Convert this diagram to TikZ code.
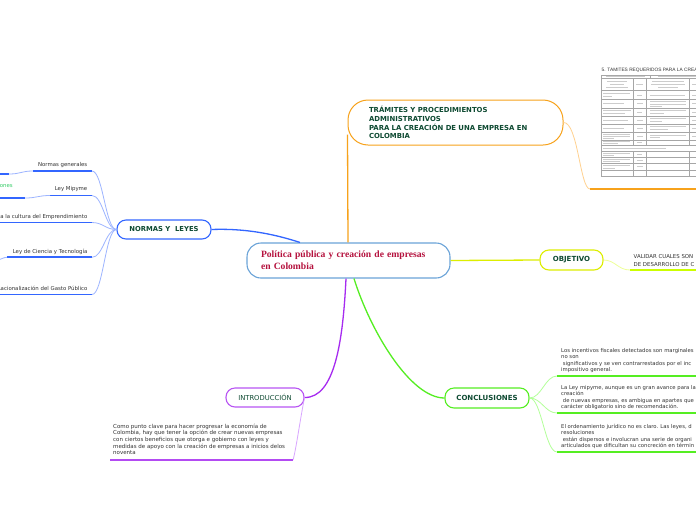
\documentclass[tikz,border=0pt]{standalone}
\usepackage{fontspec}
\newfontfamily\lbl{DejaVu Sans}
\newfontfamily\cen{Liberation Serif}
\newfontfamily\tbl{Liberation Sans}
\definecolor{nblue}{HTML}{3366FF}
\definecolor{lblue}{HTML}{9DB5FF}
\definecolor{cborder}{HTML}{6AA3D8}
\definecolor{cred}{HTML}{B5123E}
\definecolor{dgreen}{HTML}{0E4A32}
\definecolor{orng}{HTML}{F7A21B}
\definecolor{lorng}{HTML}{FFD18F}
\definecolor{ylw}{HTML}{DDEE00}
\definecolor{lylw}{HTML}{EEFF99}
\definecolor{ygreen}{HTML}{CCFF00}
\definecolor{purp}{HTML}{A62BF0}
\definecolor{lpurp}{HTML}{D9A6FF}
\definecolor{grn}{HTML}{55EE22}
\definecolor{lgrn}{HTML}{B3FF99}
\definecolor{txtgray}{HTML}{333333}
\definecolor{ogreen}{HTML}{33CC66}
\begin{document}
\begin{tikzpicture}[x=1pt,y=-1pt,
  topic/.style={draw, fill=white, line width=1.1pt, text=dgreen, inner sep=0pt,
    font=\lbl\bfseries\fontsize{7}{8.5}\selectfont},
  leaf/.style={text=txtgray, inner sep=0pt, font=\lbl\fontsize{5.4}{6.6}\selectfont},
  para/.style={text=txtgray, align=left, font=\lbl\fontsize{5.3}{6.5}\selectfont},
  uline/.style={line width=1.8pt},
  lconn/.style={line width=0.8pt},
  mconn/.style={line width=1.3pt},
  tx/.style={line width=0.9pt, gray!40},
  grid/.style={line width=0.3pt, gray!70}]
\useasboundingbox (0,0) rectangle (696,520);
\fill[white] (0,0) rectangle (696,520);
\clip (0,0) rectangle (696,520);

% ---- main nodes
\node[topic, draw=cborder, rounded corners=14pt, minimum height=35, text width=175,
  inner xsep=14, align=left, text=cred, font=\cen\bfseries\fontsize{9.6}{12}\selectfont]
  (central) at (348.5,260.5) {Política pública y creación de empresas\\en Colombia};
\node[topic, draw=nblue, rounded corners=9pt, minimum width=94, minimum height=19,
  font=\lbl\bfseries\fontsize{6.8}{8}\selectfont] (normas) at (164,229.5) {NORMAS Y\ \ LEYES};
\node[topic, draw=orng, line width=1pt, rounded corners=20pt, minimum height=45, text width=173,
  inner xsep=21, align=left, font=\lbl\bfseries\fontsize{6.9}{8.7}\selectfont]
  (tram) at (455.5,122.5) {TRÁMITES Y PROCEDIMIENTOS\\ADMINISTRATIVOS\\PARA LA CREACIÓN DE UNA EMPRESA EN\\COLOMBIA};
\node[topic, draw=ylw, rounded corners=9pt, minimum width=63, minimum height=20] (obj) at (571.5,260) {OBJETIVO};
\node[topic, draw=purp!80, rounded corners=9pt, minimum width=78, minimum height=19,
  font=\lbl\fontsize{6.8}{8}\selectfont] (intro) at (265,397.5) {INTRODUCCIÓN};
\node[topic, draw=grn, rounded corners=9pt, minimum width=84, minimum height=20] (conc) at (487,398) {CONCLUSIONES};

% ---- main connectors
\draw[mconn, nblue] (normas.east) .. controls (250,228) and (280,236) .. ([xshift=-48.5pt]central.north);
\draw[mconn, orng] ([xshift=-0.5pt]central.north) -- ([yshift=-12pt]tram.west);
\draw[mconn, ylw] (central.east) -- (obj.west);
\draw[mconn, purp] ([xshift=-2.5pt]central.south) .. controls (343,340) and (335,398) .. (intro.east);
\draw[mconn, grn] ([xshift=5.5pt]central.south) .. controls (370,330) and (410,398) .. (conc.west);

% ---- left leaves (Normas y leyes)
\node[leaf, anchor=base east] (ng) at (87.5,166.2) {Normas generales};
\coordinate (ngL) at (33,171); \coordinate (ngR) at (92,171);
\node[leaf, anchor=base east] (lm) at (87.5,190.5) {Ley Mipyme};
\coordinate (lmL) at (50,195.5); \coordinate (lmR) at (92,195.5);
\node[leaf, anchor=base east] (em) at (87.5,218) {a la cultura del Emprendimiento};
\coordinate (emL) at (-5,222.5); \coordinate (emR) at (92,222.5);
\node[leaf, anchor=base east] (lc) at (87.5,253) {Ley de Ciencia y Tecnología};
\coordinate (lcL) at (7,257.3); \coordinate (lcR) at (92,257.3);
\node[leaf, anchor=base east] (gp) at (87.5,290) {Racionalización del Gasto Público};
\coordinate (gpL) at (-5,294.5); \coordinate (gpR) at (92,294.5);
\foreach \n in {ng,lm,em,lc,gp}{
  \draw[uline, nblue] (\n L) -- (\n R);
  \draw[lconn, lblue] (\n R) .. controls +(11,0) and +(-11,0) .. (normas.west);
}
% fragments of off-picture sub-branches
\node[leaf, anchor=base east, text=ogreen] (on) at (13,187) {ones};
\coordinate (f1a) at (-5,174); \coordinate (f1b) at (9,174);
\draw[uline, nblue] (f1a) -- (f1b);
\draw[lconn, lblue] (f1b) .. controls +(12,0) and +(-12,0) .. (ngL);
\coordinate (f2a) at (-5,198); \coordinate (f2b) at (25,198);
\draw[uline, nblue] (f2a) -- (f2b);
\draw[lconn, lblue] (f2b) .. controls +(12,0) and +(-12,0) .. (lmL);
\coordinate (f4a) at (-2,259.5);
\draw[lconn, lblue] (f4a) .. controls +(4,0) and +(-4,0) .. (lcL);

% ---- Tramites table (picture)
\coordinate (tabL) at (590,189); \coordinate (tabR) at (700,189);
\draw[lconn, lorng] (tram.east) .. controls (578,122) and (580,189) .. (tabL);
\draw[uline, orng] (tabL) -- (tabR);
\node[anchor=west, inner sep=0pt, text=black!80, font=\tbl\fontsize{4.8}{5}\selectfont] (thead) at (601.5,70) {5. TAMITES REQUERIDOS PARA LA CREA};
\draw[grid] (601,75) rectangle (702,176);
\foreach \y in {78,90,99,108,116,124,132,140,145,151,157,163,170} \draw[grid] (601,\y) -- (702,\y);
\foreach \x in {633,646,689} {\draw[grid] (\x,78) -- (\x,145); \draw[grid] (\x,151) -- (\x,176);}
\draw[grid] (650,75) -- (650,78);
\foreach \a/\b/\y in {606/645/76.5, 658/696/76.5,
  607/627/81, 610/624/84, 606/628/87, 636/643/84, 652/684/81, 651/685/84, 658/678/87, 692/700/84,
  603/630/93.5, 603/612/96.5, 637/642/95, 650/685/95, 692/698/95,
  603/624/103.5, 637/643/103.5, 650/686/101.5, 650/686/104, 650/662/106.5, 692/698/103.5,
  603/631/110.5, 603/625/113.5, 637/642/112, 650/686/110.5, 650/664/113.5, 692/698/112,
  603/628/120, 637/643/120, 650/686/118.5, 650/662/121.5, 692/698/120,
  603/624/128, 637/643/128, 650/686/126.5, 650/668/129.5, 692/698/128,
  603/630/134, 603/630/136.3, 603/614/138.6, 637/643/136, 650/686/135, 650/660/137.5, 692/698/136,
  603/630/141.8, 603/618/143.5, 637/642/142.5,
  603/666/148,
  603/630/153, 603/614/155.3, 637/642/154,
  603/630/159, 603/620/161.3, 637/643/160,
  603/630/165, 603/615/168, 637/643/166.5}
  \draw[tx] (\a,\y) -- (\b,\y);

% ---- Objetivo leaf
\coordinate (valL) at (630,270); \coordinate (valR) at (700,270);
\draw[lconn, lylw] (obj.east) .. controls (615,260) and (618,270) .. (valL);
\draw[uline, ygreen] (valL) -- (valR);
\node[para, anchor=south west, inner xsep=3.5pt, inner ysep=3pt, font=\lbl\fontsize{5.4}{8}\selectfont] (val) at (630,270) {VALIDAR CUALES SON\\DE DESARROLLO DE C};

% ---- Introduccion leaf
\coordinate (inR) at (293,460);
\node[para, anchor=south west, inner xsep=3pt, inner ysep=5pt, font=\lbl\fontsize{5.5}{6.6}\selectfont] (intxt) at (110,460)
 {Como punto clave para hacer progresar la economía de\\Colombia, hay que tener la opción de crear nuevas empresas\\con ciertos beneficios que otorga e gobierno con leyes y\\medidas de apoyo con la creación de empresas a inicios delos\\noventa};
\draw[lconn, lpurp] (intro.east) .. controls (300,420) and (296,450) .. (inR);
\draw[uline, purp!85] (intxt.south west) -- (inR);

% ---- Conclusiones leaves
\node[para, anchor=south west, inner xsep=4pt, inner ysep=3pt] (c1) at (557,376)
 {Los incentivos fiscales detectados son marginales\\no son\\\ significativos y se ven contrarrestados por el inc\\impositivo general.};
\node[para, anchor=south west, inner xsep=4pt, inner ysep=3pt] (c2) at (557,413)
 {La Ley mipyme, aunque es un gran avance para la\\creación\\\ de nuevas empresas, es ambigua en apartes que\\carácter obligatorio sino de recomendación.};
\node[para, anchor=south west, inner xsep=4pt, inner ysep=3pt] (c3) at (557,452)
 {El ordenamiento jurídico no es claro. Las leyes, d\\resoluciones\\\ están dispersos e involucran una serie de organi\\articulados que dificultan su concreción en términ};
\foreach \c/\y in {c1/376, c2/413, c3/452}{
  \coordinate (\c R) at (700,\y);
  \draw[lconn, lgrn] (conc.east) .. controls +(12,0) and +(-12,0) .. (\c.south west);
  \draw[uline, grn] (\c.south west) -- (\c R);
}
\end{tikzpicture}
\end{document}
